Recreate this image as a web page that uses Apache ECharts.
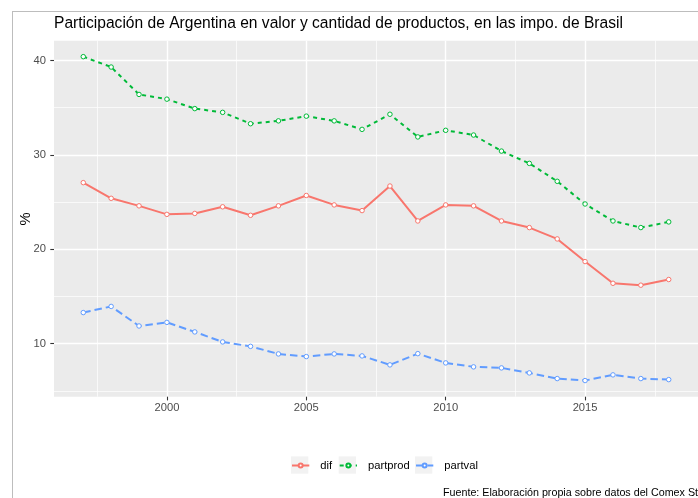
<!DOCTYPE html>
<html>
<head>
<meta charset="utf-8">
<script src="https://cdn.jsdelivr.net/npm/echarts@6/dist/echarts.min.js"></script>
<style>html,body{margin:0;padding:0;background:#fff;}#c{width:698px;height:498px;}</style>
</head>
<body>
<div id="c"></div>
<script>
var years = [1997,1998,1999,2000,2001,2002,2003,2004,2005,2006,2007,2008,2009,2010,2011,2012,2013,2014,2015,2016,2017,2018];
var dif = [27.06,25.4,24.6,23.7,23.8,24.5,23.6,24.6,25.7,24.7,24.1,26.7,23.0,24.7,24.6,23.0,22.3,21.1,18.7,16.4,16.2,16.8];
var partprod = [40.4,39.3,36.4,35.9,34.9,34.5,33.3,33.6,34.1,33.6,32.7,34.3,31.9,32.6,32.1,30.4,29.1,27.2,24.8,23.0,22.3,22.9];
var partval = [13.3,13.95,11.88,12.26,11.25,10.19,9.72,8.92,8.64,8.92,8.71,7.76,8.95,7.97,7.55,7.44,6.91,6.31,6.1,6.7,6.31,6.2];
var xTicks = [2000,2005,2010,2015];
var xMinor = [1997.5,2002.5,2007.5,2012.5,2017.5];
var yTicks = [10,20,30,40];
var yMinor = [5,15,25,35];
var seriesNames = ['dif','partprod','partval'];
var colors = ['#F8766D','#00BA38','#619CFF'];
var title = 'Participación de Argentina en valor y cantidad de productos, en las impo. de Brasil';
var yTitle = '%';
var caption = 'Fuente: Elaboración propia sobre datos del Comex Stat.';

var FONT = '"Liberation Sans", Arial, sans-serif';
function pairs(v){ return years.map(function(y,i){ return [y, v[i]]; }); }
var dashes = ['solid',[4,4],[7.5,4]];
var vals = [dif, partprod, partval];

var cv = document.createElement('canvas').getContext('2d');
function fitSize(text, target, base){
  cv.font = base + 'px ' + FONT;
  var w = cv.measureText(text).width;
  return base * target / w;
}
var titleSize = fitSize(title, 569, 17.6);
var capSize = fitSize('Fuente: Elaboración propia sobre datos del Comex St', 255, 11.7);

var chart = echarts.init(document.getElementById('c'), null, {renderer:'canvas'});
var xmin = 1995.95, xmax = 2019.05, ymin = 4.39, ymax = 42.09;
function xAx(minor){
  return {
    type:'value', min:xmin, max:xmax, position:'bottom',
    axisLine:{show:false},
    axisTick:{show:!minor, customValues: minor? xMinor : xTicks, length:3.7, lineStyle:{color:'#333333', width:1.1}},
    axisLabel:{show:!minor, customValues: xTicks, color:'#4D4D4D', fontSize:11.2, fontFamily:FONT, margin:6,
      formatter:function(v){ return String(v); }},
    splitLine:{show:true, lineStyle:{color:'#FFFFFF', width: minor?0.7:1.4}},
    minorTick:{show:false}
  };
}
function yAx(minor){
  return {
    type:'value', min:ymin, max:ymax, position:'left',
    axisLine:{show:false},
    axisTick:{show:!minor, customValues: minor? yMinor : yTicks, length:3.7, lineStyle:{color:'#333333', width:1.1}},
    axisLabel:{show:!minor, customValues: yTicks, color:'#4D4D4D', fontSize:11.2, fontFamily:FONT, margin:8,
      formatter:function(v){ return String(v); }},
    splitLine:{show:true, lineStyle:{color:'#FFFFFF', width: minor?0.7:1.4}}
  };
}
var series = seriesNames.map(function(n,i){
  return {
    name:n, type:'line', xAxisIndex:0, yAxisIndex:0, data:pairs(vals[i]),
    symbol:'circle', symbolSize:4.5, showSymbol:true,
    lineStyle:{color:colors[i], width:2, type:dashes[i]},
    itemStyle:{color:'#FFFFFF', borderColor:colors[i], borderWidth:1},
    emphasis:{disabled:true}, animation:false, z:3
  };
});
var keyX = [291, 338.7, 415];
var graphics = [
  {type:'line', shape:{x1:12.5,y1:11.5,x2:12.5,y2:498}, style:{stroke:'#BDBDBD', lineWidth:1}, silent:true},
  {type:'line', shape:{x1:12,y1:11.5,x2:698,y2:11.5}, style:{stroke:'#BDBDBD', lineWidth:1}, silent:true},
  {type:'text', x:443, y:493, style:{text:caption, font:capSize.toFixed(2)+'px '+FONT, fill:'#000', verticalAlign:'middle', align:'left'}, silent:true},
  {type:'text', x:25.5, y:219, rotation:Math.PI/2, style:{text:yTitle, font:'14.7px '+FONT, fill:'#000', verticalAlign:'middle', align:'center'}, silent:true}
];
keyX.forEach(function(x){
  graphics.push({type:'rect', shape:{x:x, y:456.4, width:17.3, height:17.3}, style:{fill:'#F2F2F2'}, z:-1, silent:true});
});
var legends = seriesNames.map(function(n,i){
  return {data:[n], left:keyX[i], top:460, padding:0, itemWidth:17.3, itemHeight:5, itemGap:0,
    textStyle:{color:'#000', fontSize:11.2, fontFamily:FONT, padding:[0,0,0,6]}, selectedMode:false};
});
chart.setOption({
  animation:false,
  backgroundColor:'#FFFFFF',
  title:{text:title, left:54, top:16, padding:0, textStyle:{color:'#000', fontSize:titleSize, fontWeight:'normal', fontFamily:FONT}},
  grid:{left:54, top:40.7, width:652, height:356, show:true, backgroundColor:'#EBEBEB', borderWidth:0, containLabel:false},
  xAxis:[xAx(true), xAx(false)],
  yAxis:[yAx(false), yAx(true)],
  legend:legends,
  series:series,
  graphic:graphics
});
</script>
</body>
</html>
